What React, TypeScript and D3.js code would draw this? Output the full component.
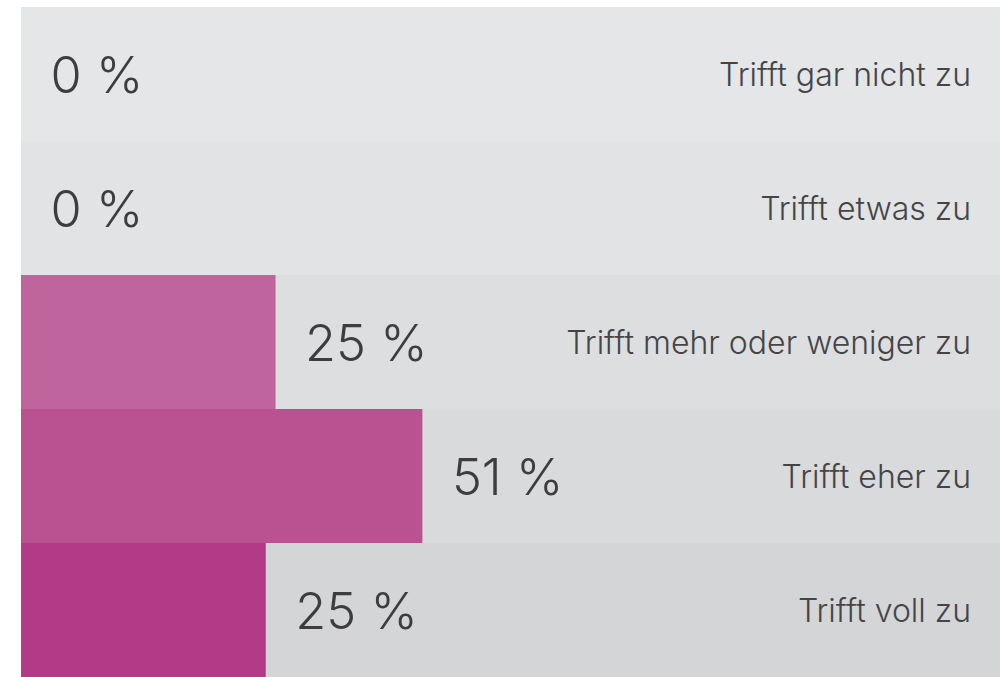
import React from "react";
import * as d3 from "d3";

const categories = [
  "Trifft gar nicht zu",
  "Trifft etwas zu",
  "Trifft mehr oder weniger zu",
  "Trifft eher zu",
  "Trifft voll zu",
];
const percentLabels = [0, 0, 25, 51, 25];
// bar lengths (share of the full row width, in %)
const barShares = [0, 0, 26, 41, 25];
const rowColors = ["#e5e6e8", "#e2e3e5", "#dddee0", "#d9dadc", "#d4d5d7"];
const barColors = ["#c77aa9", "#c46ea3", "#bf649c", "#ba5190", "#b33a87"];

const W = 1003;
const H = 677;
const left = 21;
const right = 1000;
const top = 7;
const bottom = 677;

export default function App() {
  const y = d3
    .scaleBand<string>()
    .domain(categories)
    .range([top, bottom])
    .paddingInner(0)
    .paddingOuter(0);
  const x = d3.scaleLinear().domain([0, 100]).range([left, right]);
  const font = "Inter, 'Noto Sans', sans-serif";
  return (
    <svg
      width={W}
      height={H}
      style={{ position: "absolute", left: 0, top: 0, display: "block" }}
    >
      <rect x={0} y={0} width={W} height={H} fill="#ffffff" />
      {categories.map((c, i) => {
        const y0 = y(c)!;
        const bh = y.bandwidth();
        const cy = y0 + bh / 2;
        const xEnd = x(barShares[i]);
        return (
          <g key={c}>
            <rect x={left} y={y0} width={right - left} height={bh} fill={rowColors[i]} />
            {barShares[i] > 0 && (
              <rect x={left} y={y0} width={xEnd - left} height={bh} fill={barColors[i]} />
            )}
            <text
              x={xEnd + 29.5}
              y={cy + 19}
              fontFamily={font}
              fontSize={50.5}
              fontWeight={300}
              fill="#3d3d3f"
            >
              {`${percentLabels[i]} %`}
            </text>
            <text
              x={971}
              y={cy + 12}
              textAnchor="end"
              fontFamily={font}
              fontSize={32}
              fontWeight={300}
              fill="#454547"
            >
              {c}
            </text>
          </g>
        );
      })}
    </svg>
  );
}
